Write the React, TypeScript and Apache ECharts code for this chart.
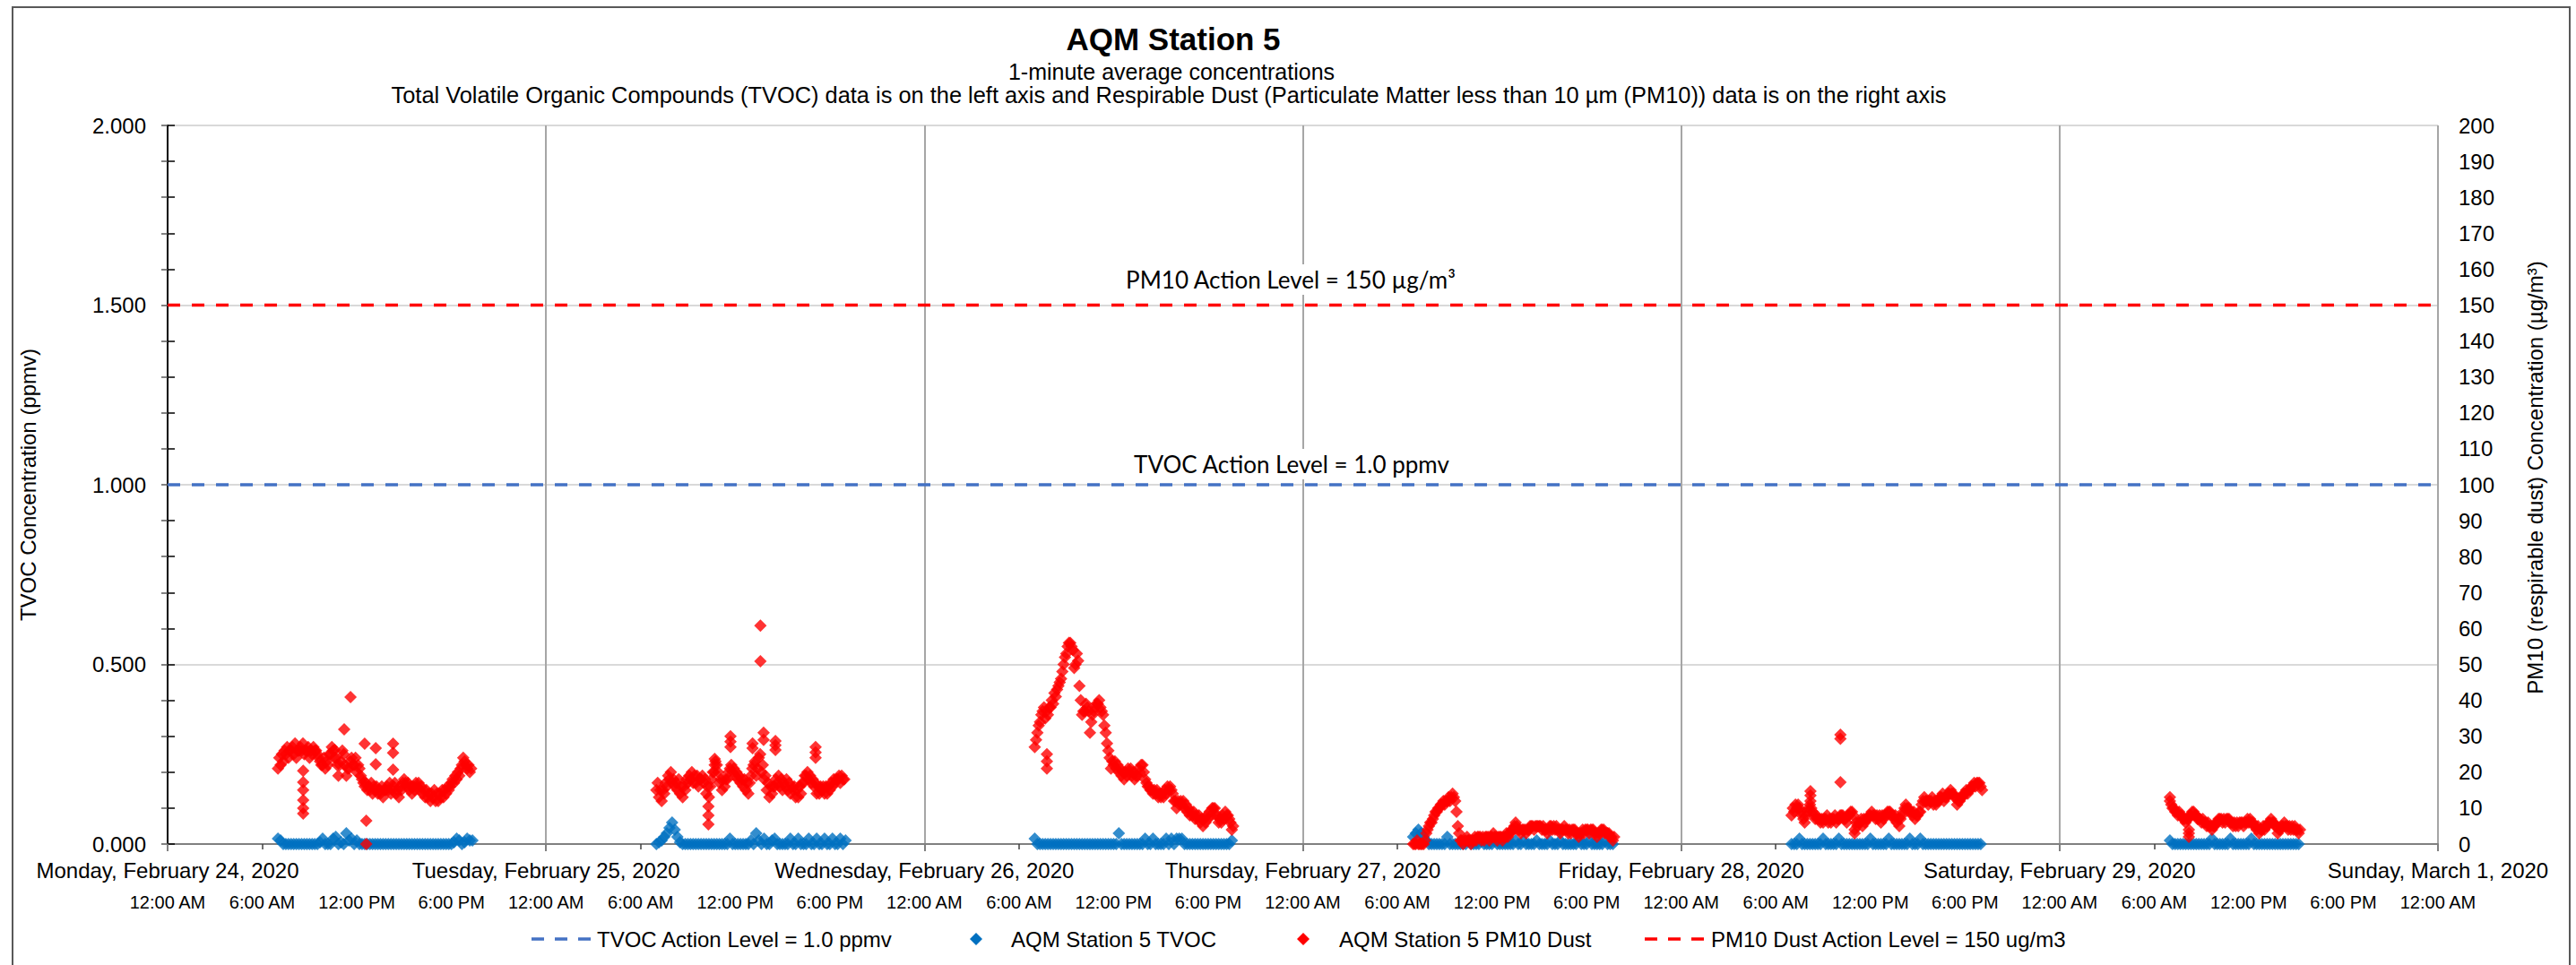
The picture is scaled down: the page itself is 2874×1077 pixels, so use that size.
import React, { useEffect, useRef } from "react";
import * as echarts from "echarts";

// ---------- axis / label text ----------
const dayLabels = [
  "Monday, February 24, 2020",
  "Tuesday, February 25, 2020",
  "Wednesday, February 26, 2020",
  "Thursday, February 27, 2020",
  "Friday, February 28, 2020",
  "Saturday, February 29, 2020",
  "Sunday, March 1, 2020",
];
const timeLabels = ["12:00 AM", "6:00 AM", "12:00 PM", "6:00 PM"];
const sixAmTicks = [0.25, 1.25, 2.25, 3.25, 4.25, 5.25];
const legendNames = [
  "TVOC Action Level = 1.0 ppmv",
  "AQM Station 5 TVOC",
  "AQM Station 5 PM10 Dust",
  "PM10 Dust Action Level = 150 ug/m3",
];

// ---------- PM10 dust (µg/m3): readings every 10 min from 7:00 AM (A) and from 7:05 AM (B) ----------
const pmMonA = [21, 22, 23,
  25, 24, 26, 25, 24, 26,
  26, 25, 26, 24, 25, 26,
  25, 23, 22, 21, 22, 25,
  26, 24, 19, 23, 25, 19,
  21, 24, 22, 20, 21, 18,
  16, 15, 15, 14, 15, 14,
  14, 13, 15, 15, 14, 16,
  14, 13, 15, 18, 16, 15,
  14, 15, 16, 15, 14, 13,
  13, 12, 13, 12, 12, 13,
  13, 14, 15, 17, 17, 18,
  19, 22, 23, 21, 20];
const pmMonB = [24, 25, 26,
  27, 26, 27, 28, 26, 27,
  28, 26, 27, 26, 27, 26,
  24, 22, 24, 23, 25, 27,
  24, 22, 22, 26, 22, 21,
  23, 22, 24, 22, 19, 17,
  17, 16, 17, 16, 16, 15,
  16, 15, 16, 17, 15, 17,
  15, 16, 17, 17, 17, 16,
  16, 17, 17, 16, 15, 15,
  14, 14, 15, 14, 14, 15,
  15, 16, 16, 18, 19, 20,
  21, 24, 22, 22, 21];
const pmTueA = [15, 13, 12,
  14, 16, 18, 17, 16, 15,
  14, 13, 15, 17, 18, 17,
  17, 16, 18, 17, 14, 13,
  18, 20, 22, 17, 15, 16,
  18, 21, 20, 19, 18, 17,
  16, 15, 14, 19, 22, 19,
  24, 20, 18, 15, 13, 14,
  16, 17, 16, 15, 16, 15,
  14, 15, 13, 13, 14, 17,
  19, 18, 17, 16, 14, 14,
  15, 14, 14, 15, 16, 17,
  18, 17, 18];
const pmTueB = [17, 15, 15,
  17, 19, 20, 18, 17, 18,
  16, 16, 18, 19, 20, 19,
  19, 18, 19, 18, 16, 16,
  20, 23, 20, 18, 18, 18,
  20, 22, 21, 20, 19, 18,
  18, 17, 17, 21, 23, 21,
  25, 22, 19, 17, 16, 16,
  18, 19, 18, 17, 18, 17,
  16, 16, 15, 16, 17, 19,
  20, 19, 18, 17, 16, 16,
  16, 16, 16, 17, 18, 18,
  19, 19, 18];
const pmWedA = [27, 31, 34,
  37, 35, 36, 38, 39, 41,
  44, 46, 50, 53, 56, 55,
  49, 53, 44, 36, 37, 38,
  31, 36, 38, 39, 38, 36,
  31, 26, 21, 22, 21, 20,
  19, 18, 19, 20, 19, 18,
  19, 20, 22, 18, 16, 15,
  14, 14, 13, 13, 13, 14,
  15, 15, 12, 10, 11, 11,
  10, 9, 8, 8, 7, 7,
  6, 5, 6, 7, 8, 10,
  8, 6, 6, 7, 8, 7,
  4];
const pmWedB = [29, 33, 36,
  38, 37, 38, 40, 42, 43,
  45, 48, 52, 55, 56, 54,
  50, 51, 40, 37, 39, 37,
  34, 37, 39, 40, 37, 33,
  28, 24, 23, 23, 22, 21,
  20, 20, 21, 21, 20, 19,
  21, 22, 20, 17, 16, 15,
  15, 15, 14, 14, 15, 16,
  16, 14, 12, 12, 12, 12,
  11, 10, 9, 9, 8, 8,
  7, 7, 8, 9, 10, 10,
  8, 7, 8, 9, 8, 6,
  5];
const pmThuA = [0, 0, 0, 0, 0, 3,
  5, 6, 8, 9, 10, 11,
  11, 12, 12, 14, 12, 5,
  1, 0, 1, 1, 0, 1,
  1, 2, 1, 1, 2, 1,
  2, 2, 1, 2, 1, 2,
  2, 3, 4, 6, 4, 3,
  4, 3, 4, 5, 4, 5,
  5, 4, 4, 3, 5, 4,
  4, 4, 3, 4, 4, 3,
  3, 4, 3, 2, 3, 3,
  4, 3, 4, 3, 2, 3,
  4, 3, 3, 2, 1];
const pmThuB = [0, 1, 0, 0, 1, 4,
  6, 7, 9, 10, 11, 12,
  12, 13, 13, 13, 9, 3,
  1, 1, 2, 1, 1, 2,
  2, 2, 2, 2, 2, 2,
  3, 2, 2, 2, 2, 3,
  3, 4, 5, 5, 4, 4,
  4, 4, 5, 5, 5, 5,
  5, 5, 4, 4, 5, 5,
  5, 4, 4, 5, 4, 4,
  4, 4, 3, 3, 4, 4,
  4, 4, 4, 3, 3, 4,
  4, 3, 3, 2, 2];
const pmFriA = [8, 9, 10, 10, 8, 6,
  9, 11, 9, 7, 7, 6,
  6, 7, 6, 6, 7, 6,
  7, 8, 7, 6, 8, 9,
  4, 5, 6, 5, 6, 7,
  8, 8, 7, 7, 6, 7,
  8, 9, 8, 7, 6, 5,
  8, 10, 10, 9, 8, 7,
  8, 9, 12, 12, 11, 12,
  11, 11, 12, 13, 12, 13,
  14, 14, 13, 11, 12, 13,
  14, 14, 15, 16, 16, 17,
  16];
const pmFriB = [10, 11, 11, 9, 7, 8,
  10, 10, 8, 8, 7, 7,
  7, 8, 7, 7, 8, 7,
  8, 8, 7, 8, 9, 8,
  6, 6, 7, 7, 7, 8,
  9, 8, 8, 8, 8, 8,
  9, 9, 8, 8, 7, 7,
  9, 11, 10, 9, 9, 8,
  9, 11, 13, 12, 12, 13,
  12, 12, 13, 14, 13, 14,
  15, 14, 13, 12, 13, 14,
  15, 15, 16, 17, 17, 17,
  15];
const pmSatA = [12, 10, 9, 8, 8, 7,
  6, 7, 8, 9, 8, 7,
  6, 6, 5, 5, 4, 5,
  6, 7, 6, 6, 7, 6,
  5, 5, 5, 6, 5, 6,
  6, 6, 5, 4, 3, 4,
  4, 5, 6, 6, 5, 3,
  4, 5, 5, 4, 4, 4,
  4, 3];
const pmSatB = [11, 10, 9, 9, 8, 7,
  7, 8, 9, 8, 7, 7,
  7, 6, 6, 5, 5, 6,
  7, 7, 7, 7, 7, 6,
  6, 6, 6, 6, 6, 7,
  7, 6, 5, 5, 4, 5,
  5, 6, 7, 6, 5, 4,
  5, 6, 5, 5, 5, 5,
  4, 4];
// isolated PM10 readings: [day index, hour of day, value]
const pmSpikes = [
  [0, 8.6, 20.4], [0, 8.6, 17.2], [0, 8.6, 15.0], [0, 8.6, 12.2], [0, 8.6, 10.0], [0, 8.6, 8.5],
  [0, 10.6, 26.2], [0, 11.2, 31.9], [0, 11.6, 40.9], [0, 12.5, 27.9], [0, 12.6, 6.5], [0, 12.6, 0],
  [0, 13.2, 26.7], [0, 13.2, 22.2], [0, 14.3, 27.9], [0, 14.3, 25.4], [0, 14.3, 20.7],
  [1, 10.3, 10.5], [1, 10.3, 8], [1, 10.3, 5.5], [1, 10.7, 23.7], [1, 10.7, 22],
  [1, 11.7, 30], [1, 11.7, 28.5], [1, 11.7, 27], [1, 13.1, 28], [1, 13.1, 26.7],
  [1, 13.6, 60.8], [1, 13.6, 50.9], [1, 13.8, 31], [1, 13.8, 29],
  [1, 14.55, 28.7], [1, 14.55, 27.5], [1, 14.55, 26.2], [1, 17.1, 27], [1, 17.1, 25.5], [1, 17.1, 24],
  [2, 7.77, 25], [2, 7.77, 23], [2, 7.77, 21],
  [4, 8.2, 14.7], [4, 8.2, 13.5], [4, 8.2, 12], [4, 10.1, 30.4], [4, 10.1, 29.3], [4, 10.1, 17.2], [4, 11.0, 3],
  [5, 7.0, 13], [5, 8.2, 4], [5, 8.2, 3], [5, 8.2, 2],
];

// ---------- TVOC (ppmv): readings every 10 min from 7:00 AM (one row per hour) ----------
const tvMon = [
  0.015, 0.01, 0, 0, 0, 0,
  0, 0, 0, 0, 0, 0,
  0, 0, 0, 0, 0.005, 0.015,
  0, 0, 0, 0.015, 0.02, 0,
  0.005, 0, 0.03, 0.01, 0.015, 0,
  0.01, 0, 0, 0, 0, 0,
  0, 0, 0, 0, 0, 0,
  0, 0, 0, 0, 0, 0,
  0, 0, 0, 0, 0, 0,
  0, 0, 0, 0, 0, 0,
  0, 0, 0, 0, 0, 0,
  0, 0.005, 0.015, 0.01, 0, 0.005,
  0.015, 0.01, 0.01];
const tvTue = [
  0, 0.005, 0.01, 0.02, 0.03, 0.045,
  0.06, 0.04, 0.02, 0.005, 0, 0,
  0, 0, 0, 0, 0, 0,
  0, 0, 0, 0, 0, 0,
  0, 0, 0, 0, 0.015, 0,
  0, 0, 0, 0, 0, 0,
  0.01, 0, 0.03, 0.01, 0, 0.015,
  0, 0, 0.01, 0.015, 0, 0,
  0, 0, 0, 0.015, 0, 0,
  0.015, 0, 0, 0, 0.015, 0,
  0, 0.015, 0, 0, 0.015, 0,
  0, 0.015, 0, 0, 0.015, 0,
  0.01];
const tvWed = [
  0.015, 0, 0, 0, 0, 0,
  0, 0, 0, 0, 0, 0,
  0, 0, 0, 0, 0, 0,
  0, 0, 0, 0, 0, 0,
  0, 0, 0, 0, 0, 0,
  0, 0, 0.03, 0, 0, 0,
  0, 0, 0, 0, 0, 0,
  0.015, 0, 0, 0.015, 0, 0,
  0, 0, 0.015, 0, 0.015, 0,
  0.015, 0.015, 0.015, 0, 0, 0,
  0, 0, 0, 0, 0, 0,
  0, 0, 0, 0, 0, 0,
  0, 0, 0, 0.01];
const tvThu = [
  0.02, 0.03, 0.04, 0.03, 0.02, 0.01,
  0, 0, 0, 0, 0, 0,
  0, 0.02, 0, 0, 0, 0,
  0, 0, 0, 0.01, 0, 0,
  0, 0, 0.01, 0, 0, 0,
  0, 0.01, 0, 0, 0, 0,
  0, 0, 0, 0.01, 0, 0,
  0.01, 0, 0, 0, 0, 0.01,
  0, 0, 0, 0, 0.01, 0,
  0, 0, 0.01, 0, 0, 0,
  0, 0, 0, 0.01, 0, 0,
  0, 0.01, 0, 0, 0, 0,
  0, 0.01, 0, 0, 0];
const tvFri = [
  0, 0, 0, 0.015, 0, 0,
  0, 0, 0, 0, 0, 0,
  0.015, 0, 0, 0, 0, 0,
  0.015, 0, 0, 0, 0, 0,
  0, 0, 0, 0, 0, 0,
  0.015, 0, 0, 0, 0, 0,
  0, 0.015, 0, 0, 0, 0,
  0, 0, 0, 0.015, 0, 0,
  0, 0.015, 0, 0, 0, 0,
  0, 0, 0, 0, 0, 0,
  0, 0, 0, 0, 0, 0,
  0, 0, 0, 0, 0, 0,
  0];
const tvSat = [
  0.01, 0, 0, 0, 0, 0,
  0, 0, 0, 0, 0, 0,
  0, 0, 0, 0, 0.015, 0,
  0, 0, 0, 0, 0, 0.015,
  0, 0, 0, 0, 0, 0,
  0, 0.015, 0, 0, 0, 0,
  0, 0, 0, 0, 0, 0,
  0, 0, 0, 0, 0, 0,
  0, 0];

const startHour = 7;
const pmDaysA = [pmMonA, pmTueA, pmWedA, pmThuA, pmFriA, pmSatA];
const pmDaysB = [pmMonB, pmTueB, pmWedB, pmThuB, pmFriB, pmSatB];
const tvDays = [tvMon, tvTue, tvWed, tvThu, tvFri, tvSat];

const tvocAction = 1.0;
const pmAction = 150;

function buildPM(): number[][] {
  const out: number[][] = [];
  pmDaysA.forEach((vals, d) => vals.forEach((v, i) => out.push([d + (startHour + i / 6) / 24, v])));
  pmDaysB.forEach((vals, d) => vals.forEach((v, i) => out.push([d + (startHour + i / 6 + 1 / 12) / 24, v])));
  pmSpikes.forEach(([d, h, v]) => out.push([d + h / 24, v]));
  return out;
}
function buildTV(): number[][] {
  const out: number[][] = [];
  tvDays.forEach((vals, d) => vals.forEach((v, i) => out.push([d + (startHour + i / 6) / 24, v])));
  return out;
}

const FONT = "'Liberation Sans', Arial, sans-serif";

function diamond(cx: number, cy: number, r: number) {
  return [[cx, cy - r], [cx + r, cy], [cx, cy + r], [cx - r, cy]];
}
function legendText(x: number, y: number, text: string) {
  return {
    type: "text", z: 100, x, y,
    style: { text, font: `24px ${FONT}`, fill: "#000", align: "left", verticalAlign: "middle", textAlign: "left", textVerticalAlign: "middle" },
  };
}

export default function App() {
  const ref = useRef<HTMLDivElement>(null);
  useEffect(() => {
    document.body.style.margin = "0";
    const chart = echarts.init(ref.current!, null, { renderer: "svg" });
    const LY = 1048;
    const option: any = {
      animation: false,
      textStyle: { fontFamily: FONT, color: "#000" },
      grid: { left: 187, right: 154, top: 140, bottom: 135, containLabel: false, outerBoundsMode: "none" },
      xAxis: [
        {
          type: "value",
          min: 0,
          max: 6,
          interval: 1,
          position: "bottom",
          axisLine: { show: true, onZero: false, lineStyle: { color: "#808080", width: 2 } },
          axisTick: { show: true, length: 8, lineStyle: { color: "#808080", width: 2 } },
          axisLabel: {
            show: true,
            margin: 17,
            fontSize: 24,
            color: "#000",
            fontFamily: FONT,
            showMinLabel: true,
            showMaxLabel: true,
            formatter: (v: number) => dayLabels[Math.round(v)] ?? "",
          },
          splitLine: { show: true, lineStyle: { color: "#a6a6a6", width: 2 } },
        },
        {
          type: "value",
          min: 0,
          max: 6,
          interval: 0.25,
          position: "bottom",
          axisLine: { show: false, onZero: false },
          axisTick: { show: true, length: 6, customValues: sixAmTicks, lineStyle: { color: "#404040", width: 1.5 } },
          axisLabel: {
            show: true,
            margin: 55,
            fontSize: 20,
            color: "#000",
            fontFamily: FONT,
            showMinLabel: true,
            showMaxLabel: true,
            formatter: (v: number) => timeLabels[Math.round(v * 4) % 4],
          },
          splitLine: { show: false },
        },
      ],
      yAxis: [
        {
          type: "value",
          min: 0,
          max: 2,
          interval: 0.5,
          position: "left",
          axisLine: { show: true, lineStyle: { color: "#595959", width: 2 } },
          axisTick: { show: true, length: 7, lineStyle: { color: "#595959", width: 1.5 } },
          minorTick: { show: true, splitNumber: 5, length: 7, lineStyle: { color: "#595959", width: 1.5 } },
          axisLabel: { margin: 24, fontSize: 24, color: "#000", fontFamily: FONT, formatter: (v: number) => v.toFixed(3) },
          splitLine: { show: true, lineStyle: { color: "#d9d9d9", width: 2 } },
        },
        {
          type: "value",
          min: 0,
          max: 200,
          interval: 10,
          position: "right",
          axisLine: { show: true, lineStyle: { color: "#000", width: 2 } },
          axisTick: { show: true, length: 8, lineStyle: { color: "#000", width: 1.5 } },
          axisLabel: { margin: 23, fontSize: 24, color: "#000", fontFamily: FONT },
          splitLine: { show: false },
        },
      ],
      series: [
        {
          name: legendNames[0],
          type: "line",
          xAxisIndex: 0,
          yAxisIndex: 0,
          data: [[0, tvocAction], [6, tvocAction]],
          symbol: "none",
          silent: true,
          lineStyle: { color: "#4472C4", width: 3.5, type: [14, 13] },
          itemStyle: { color: "#4472C4" },
          z: 3,
        },
        {
          name: legendNames[1],
          type: "scatter",
          xAxisIndex: 0,
          yAxisIndex: 0,
          symbol: "diamond",
          symbolSize: 14,
          clip: false,
          silent: true,
          itemStyle: { color: "#0070C0" },
          data: buildTV(),
          z: 4,
        },
        {
          name: legendNames[2],
          type: "scatter",
          xAxisIndex: 0,
          yAxisIndex: 1,
          symbol: "diamond",
          symbolSize: 14,
          clip: false,
          silent: true,
          itemStyle: { color: "#FF0000" },
          data: buildPM(),
          z: 5,
        },
        {
          name: legendNames[3],
          type: "line",
          xAxisIndex: 0,
          yAxisIndex: 1,
          data: [[0, pmAction], [6, pmAction]],
          symbol: "none",
          silent: true,
          lineStyle: { color: "#FF0000", width: 3.5, type: [14, 13] },
          itemStyle: { color: "#FF0000" },
          z: 3,
        },
      ],
      graphic: [
        {
          type: "rect",
          z: 100,
          shape: { x: 14, y: 8, width: 2853, height: 1100 },
          style: { fill: "none", stroke: "#595959", lineWidth: 2 },
        },
        {
          type: "text", z: 100, x: 1309, y: 43,
          style: { text: "AQM Station 5", font: `bold 35px ${FONT}`, fill: "#000", align: "center", verticalAlign: "middle", textAlign: "center", textVerticalAlign: "middle" },
        },
        {
          type: "text", z: 100, x: 1307, y: 80,
          style: { text: "1-minute average concentrations", font: `25px ${FONT}`, fill: "#000", align: "center", verticalAlign: "middle", textAlign: "center", textVerticalAlign: "middle" },
        },
        {
          type: "text", z: 100, x: 1304, y: 106,
          style: {
            text: "Total Volatile Organic Compounds (TVOC) data is on the left axis and Respirable Dust (Particulate Matter less than 10 µm (PM10)) data is on the right axis",
            font: `25.4px ${FONT}`, fill: "#000", align: "center", verticalAlign: "middle", textAlign: "center", textVerticalAlign: "middle",
          },
        },
        {
          type: "text", z: 100, x: 31, y: 541, rotation: Math.PI / 2,
          style: { text: "TVOC Concentration (ppmv)", font: `24px ${FONT}`, fill: "#000", align: "center", verticalAlign: "middle", textAlign: "center", textVerticalAlign: "middle" },
        },
        {
          type: "text", z: 100, x: 2828, y: 533, rotation: Math.PI / 2,
          style: { text: "PM10 (respirable dust) Concentration (µg/m³)", font: `24px ${FONT}`, fill: "#000", align: "center", verticalAlign: "middle", textAlign: "center", textVerticalAlign: "middle" },
        },
        {
          type: "text", z: 100, x: 1440, y: 312,
          style: {
            text: "PM10 Action Level = 150 µg/m³", font: `26px Lato, sans-serif`, fill: "#000",
            align: "center", verticalAlign: "middle", textAlign: "center", textVerticalAlign: "middle",
            backgroundColor: "#fff", padding: [4, 8],
          },
        },
        {
          type: "text", z: 100, x: 1441, y: 518,
          style: {
            text: "TVOC Action Level = 1.0 ppmv", font: `26px Lato, sans-serif`, fill: "#000",
            align: "center", verticalAlign: "middle", textAlign: "center", textVerticalAlign: "middle",
            backgroundColor: "#fff", padding: [4, 8],
          },
        },
        // legend
        { type: "line", z: 100, shape: { x1: 593, y1: LY, x2: 660, y2: LY }, style: { stroke: "#4472C4", lineWidth: 3.5, lineDash: [14, 12] } },
        legendText(666, LY, legendNames[0]),
        { type: "polygon", z: 100, shape: { points: diamond(1089, LY, 7) }, style: { fill: "#0070C0" } },
        legendText(1128, LY, legendNames[1]),
        { type: "polygon", z: 100, shape: { points: diamond(1454, LY, 7) }, style: { fill: "#FF0000" } },
        legendText(1494, LY, legendNames[2]),
        { type: "line", z: 100, shape: { x1: 1835, y1: LY, x2: 1902, y2: LY }, style: { stroke: "#FF0000", lineWidth: 3.5, lineDash: [14, 12] } },
        legendText(1909, LY, legendNames[3]),
      ],
    };
    chart.setOption(option);
    return () => chart.dispose();
  }, []);
  return <div ref={ref} style={{ position: "absolute", left: 0, top: 0, width: 2874, height: 1077 }} />;
}
